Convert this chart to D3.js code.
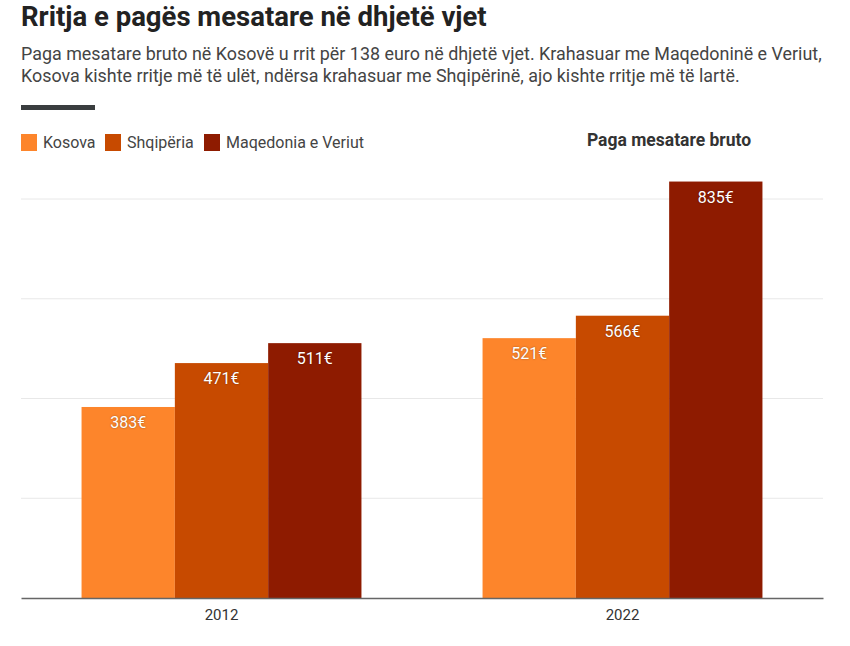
<!DOCTYPE html>
<html><head><meta charset="utf-8">
<script src="https://cdn.jsdelivr.net/npm/d3@7"></script>
<style>
body{margin:0;background:#fff;}
svg text{font-family:"Roboto",sans-serif;}
</style></head>
<body><svg id="c" width="850" height="646"></svg>
<script>
const years = ["2012", "2022"];
const seriesNames = ["Kosova", "Shqipëria", "Maqedonia e Veriut"];
const kosova = [383, 521];
const shqiperia = [471, 566];
const maqedonia = [511, 835];
const yTicks = [0, 200, 400, 600, 800];
const colors = ["#fd852b", "#c74a00", "#8e1b00"];

const seriesValues = [kosova, shqiperia, maqedonia];
const svg = d3.select("#c");
const left = 21, right = 823, base = 598;

svg.append("text").attr("x", 21).attr("y", 26).text("Rritja e pagës mesatare në dhjetë vjet")
  .style("font-size", "27.5px").style("font-weight", "bold").attr("fill", "#222");
svg.append("text").attr("x", 21).attr("y", 60).text("Paga mesatare bruto në Kosovë u rrit për 138 euro në dhjetë vjet. Krahasuar me Maqedoninë e Veriut,")
  .style("font-size", "17.9px").attr("fill", "#444");
svg.append("text").attr("x", 21).attr("y", 82).text("Kosova kishte rritje më të ulët, ndërsa krahasuar me Shqipërinë, ajo kishte rritje më të lartë.")
  .style("font-size", "17.9px").attr("fill", "#444");
svg.append("rect").attr("x", 21).attr("y", 105).attr("width", 74).attr("height", 5).attr("fill", "#3a3d3f");

// legend
const legX = [21, 105, 204];
seriesNames.forEach((n, i) => {
  svg.append("rect").attr("x", legX[i]).attr("y", 134).attr("width", 16).attr("height", 17).attr("fill", colors[i]);
  svg.append("text").attr("x", legX[i] + 22).attr("y", 147.5).text(n).style("font-size", "16px").attr("fill", "#444");
});
svg.append("text").attr("x", 669).attr("y", 146).attr("text-anchor", "middle").text("Paga mesatare bruto")
  .style("font-size", "17.5px").style("font-weight", "bold").attr("fill", "#333");

const y = d3.scaleLinear().domain([0, 800]).range([base, 199]);
const x0 = d3.scaleBand().domain(years).range([left, right]).paddingInner(0.302).paddingOuter(0.151);
const x1 = d3.scaleBand().domain(seriesNames).range([0, x0.bandwidth()]);

// grid
svg.append("g").selectAll("line").data(yTicks.filter(d => d > 0)).join("line")
  .attr("x1", left).attr("x2", right).attr("y1", d => y(d)).attr("y2", d => y(d))
  .attr("stroke", "#e8e8e8").attr("stroke-width", 1);

const data = [];
years.forEach((yr, j) => seriesNames.forEach((s, i) => data.push({yr, s, i, v: seriesValues[i][j]})));

svg.append("g").selectAll("rect").data(data).join("rect")
  .attr("x", d => x0(d.yr) + x1(d.s)).attr("width", x1.bandwidth())
  .attr("y", d => y(d.v)).attr("height", d => base - y(d.v)).attr("fill", d => colors[d.i]);

svg.append("g").selectAll("text").data(data).join("text")
  .attr("x", d => x0(d.yr) + x1(d.s) + x1.bandwidth() / 2).attr("y", d => y(d.v) + 21)
  .attr("text-anchor", "middle").text(d => d.v + "€").attr("fill", "#fff")
  .style("font-size", "16px").style("text-shadow", "0 0 2px rgba(0,0,0,0.4)");

const ax = svg.append("g").attr("transform", `translate(0,${base})`)
  .call(d3.axisBottom(x0).tickSize(0).tickPadding(11));
ax.select(".domain").attr("stroke", "#666").attr("stroke-width", 1.5);
ax.selectAll("text").style("font-size", "15px").attr("fill", "#333").style("font-family", '"Roboto",sans-serif');
</script></body></html>
